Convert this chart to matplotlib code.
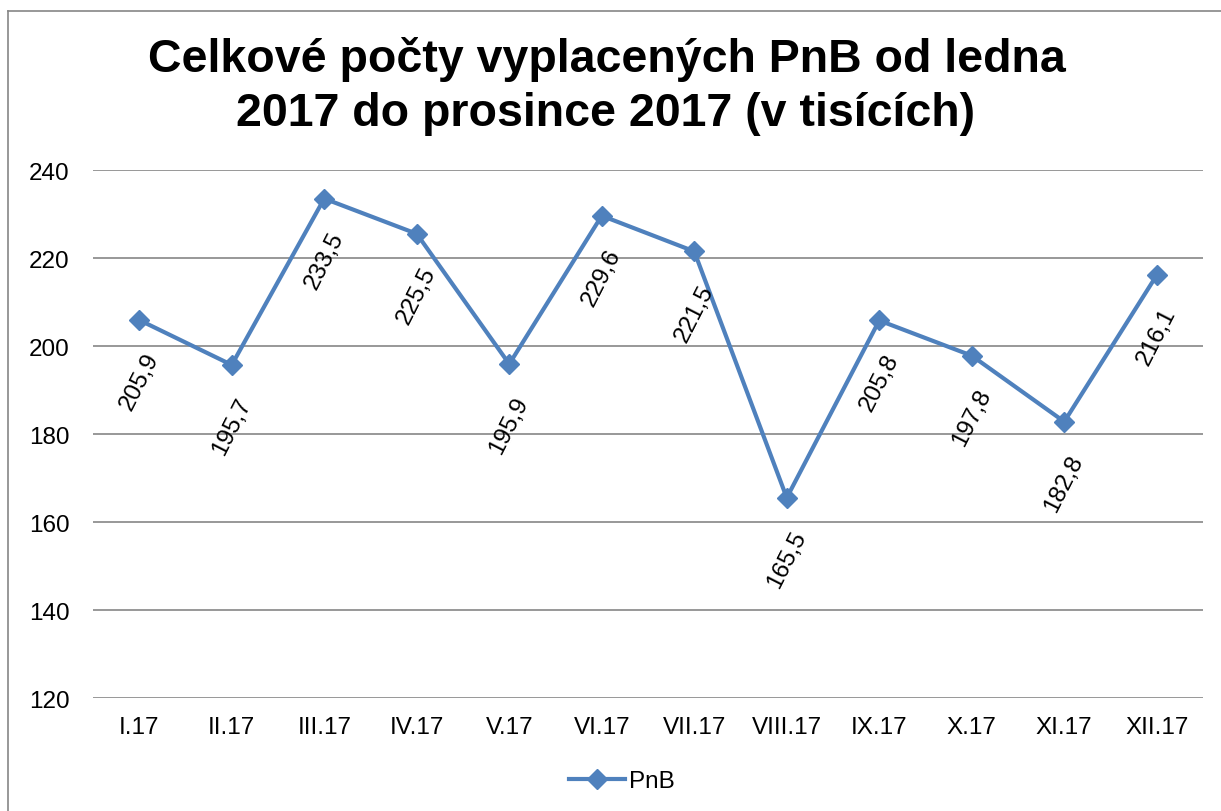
import matplotlib
matplotlib.use("Agg")
import matplotlib.pyplot as plt
from matplotlib.lines import Line2D

plt.rcParams['font.family'] = ['Liberation Sans', 'DejaVu Sans']

categories = ["I.17", "II.17", "III.17", "IV.17", "V.17", "VI.17",
              "VII.17", "VIII.17", "IX.17", "X.17", "XI.17", "XII.17"]
values = [205.9, 195.7, 233.5, 225.5, 195.9, 229.6,
          221.5, 165.5, 205.8, 197.8, 182.8, 216.1]
series_name = "PnB"
title_lines = ["Celkové počty vyplacených PnB od ledna",
               "2017 do prosince 2017 (v tisících)"]
yticks = [120, 140, 160, 180, 200, 220, 240]

W, H = 1221, 812
fig = plt.figure(figsize=(W / 100, H / 100), dpi=100)
color = "#4F81BD"

ax = fig.add_axes([93 / W, 1 - 699 / H, (1203 - 93) / W, (699 - 171) / H])
x = list(range(len(categories)))
ax.plot(x, values, color=color, lw=3, marker='D', ms=10, zorder=3,
        solid_joinstyle='miter')
ax.set_xlim(-0.5, len(categories) - 0.5)
ax.set_ylim(120, 240)
ax.set_yticks(yticks)
ax.set_xticks(x)
ax.set_xticklabels(categories)
for s in ax.spines.values():
    s.set_visible(False)
ax.tick_params(axis='both', length=0, labelsize=17.5)
ax.tick_params(axis='y', pad=17)
ax.tick_params(axis='x', pad=13)
ax.grid(axis='y', color='#868686', lw=1.2)
ax.set_axisbelow(True)

for xi, v in zip(x, values):
    ax.annotate(f"{v:.1f}".replace('.', ','), (xi, v), xytext=(0, -44),
                textcoords='offset points', ha='center', va='center',
                rotation=63, fontsize=17.5, rotation_mode='anchor')

fig.text(607 / W, 1 - 72 / H, title_lines[0], ha='center', va='baseline',
         fontsize=33.5, fontweight='bold')
fig.text(606 / W, 1 - 126 / H, title_lines[1], ha='center', va='baseline',
         fontsize=33.5, fontweight='bold')

handle = Line2D([], [], color=color, lw=3, marker='D', ms=10)
fig.legend([handle], [series_name], loc='center',
           bbox_to_anchor=(622 / W, 1 - 782 / H), frameon=False,
           fontsize=17.5, handlelength=2.3, handletextpad=0.15)

# figure border (top and left visible)
fig.add_artist(Line2D([8 / W, 1], [1 - 12 / H, 1 - 12 / H], color='#868686',
                      lw=1.2, transform=fig.transFigure))
fig.add_artist(Line2D([8 / W, 8 / W], [0, 1 - 12 / H], color='#868686',
                      lw=1.2, transform=fig.transFigure))

fig.savefig("out.png", dpi=100)
